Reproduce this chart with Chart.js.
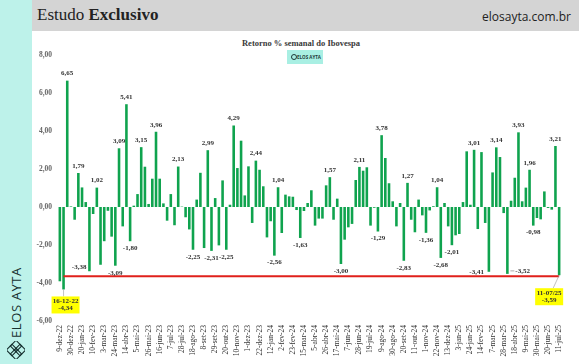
<!DOCTYPE html>
<html>
<head>
<meta charset="utf-8">
<script src="https://cdn.jsdelivr.net/npm/chart.js@4.4.1/dist/chart.umd.min.js"></script>
<style>
  body { margin: 0; width: 579px; height: 364px; overflow: hidden; background: #fff; position: relative; font-family: "Liberation Serif", serif; }
  #side { position: absolute; left: 0; top: 0; width: 32px; height: 364px; background: #bdf2ea; }
  #brand { position: absolute; left: 7px; top: 266px; height: 74px; width: 18px; writing-mode: vertical-rl; transform: rotate(180deg);
           font: 13px "Open Sans", sans-serif; letter-spacing: 0.6px; color: #16302f; text-align: center; line-height: 18px; white-space: nowrap; }
  #brandIcon { position: absolute; left: 7px; top: 341px; }
  #head { position: absolute; left: 32px; top: 0; width: 547px; height: 31px; background: #d4d4d4; }
  #head .left { position: absolute; left: 5px; top: 5px; font: 17px "Liberation Serif", serif; color: #222; }
  #head .right { position: absolute; right: 8px; top: 8px; font: 12px "Open Sans", sans-serif; color: #222; }
  #title { position: absolute; left: 201px; width: 200px; top: 38px; text-align: center; font: bold 8.5px "Liberation Serif", serif; color: #3a3a3a; }
  #badge { position: absolute; left: 287px; top: 50px; width: 36px; height: 14px; background: #a9efe3; font: bold 4.5px "Open Sans", sans-serif; color: #1d3b3a; line-height: 14px; }
  #badge span { position: absolute; left: 10px; }
  #badge i { position: absolute; left: 4px; top: 4px; width: 4px; height: 4px; border: 1px solid #1d3b3a; border-radius: 50%; }
  canvas { position: absolute; left: 32px; top: 31px; }
</style>
</head>
<body>
<div id="side">
  <div id="brand">ELOS AYTA</div>
  <svg id="brandIcon" width="18" height="18" viewBox="0 0 18 18" fill="none" stroke="#16302f" stroke-width="1.1">
    <rect x="5" y="1" width="8" height="8" transform="rotate(45 9 5)"/>
    <rect x="5" y="9" width="8" height="8" transform="rotate(45 9 13)"/>
    <rect x="1" y="5" width="8" height="8" transform="rotate(45 5 9)"/>
    <rect x="9" y="5" width="8" height="8" transform="rotate(45 13 9)"/>
  </svg>
</div>
<div id="head">
  <div class="left">Estudo <b>Exclusivo</b></div>
  <div class="right">elosayta.com.br</div>
</div>
<div id="title">Retorno % semanal do Ibovespa</div>
<div id="badge"><i></i><span>ELOS AYTA</span></div>
<canvas id="retChart" width="547" height="333"></canvas>

<script>
// weekly Ibovespa return (%), one per Friday from 9-dez-22 to 11-jul-25
const weeklyReturn = [
  -3.91, -4.34, 6.65, 0.03, -0.67, 1.79, 1.03, 0.26, -3.38, -0.37,
  1.02, -3.04, -1.80, -0.20, -1.56, -3.09, 3.09, -1.02, 5.41, -1.80,
  0.07, 0.68, 3.15, 2.12, 0.16, 1.49, 3.96, 1.49, 0.19, -0.72,
  0.68, -0.96, 2.13, 0.02, -0.54, -1.18, -2.25, 0.39, 1.80, -2.16,
  2.99, -2.31, 0.47, -2.02, 1.40, -2.25, 0.12, 4.29, 2.05, 3.49,
  0.61, 2.14, -0.84, 2.44, 1.96, 1.09, -1.60, -0.75, -2.56, 1.04,
  -1.37, 0.65, 0.56, 0.54, -0.16, -1.63, -0.21, 0.21, 0.88, -0.98,
  -0.61, -0.61, 1.14, 1.57, -0.67, 0.44, -3.00, -1.72, -1.07, -0.89,
  1.42, 2.11, 1.91, 2.09, -0.98, -0.04, -1.29, 3.78, 2.58, 1.25,
  0.30, -1.02, 0.21, -2.83, 1.27, -0.67, -1.33, 0.39, -0.44, -1.36,
  -0.18, 0.04, 1.04, -2.68, 0.21, -1.02, -2.01, -1.49, -1.42, 0.26,
  2.93, 0.12, 3.01, -1.16, 2.89, -0.84, -3.41, 1.82, 3.14, 2.63,
  -0.32, -3.52, 0.33, 1.54, 3.93, 0.30, 1.02, 1.96, -0.98, -0.58,
  -0.65, 0.82, -0.05, -0.14, 3.21, -3.59
];

// bars that carry a value label
const labeledWeeks = [2, 5, 8, 10, 15, 16, 18, 19, 22, 26, 32, 36, 40, 41, 45, 47, 53, 58, 59, 65,
  73, 76, 81, 86, 87, 93, 94, 99, 102, 103, 106, 112, 116, 118, 121, 124, 127, 128, 134];

// the two yellow callouts (first low and last week)
const calloutWeeks = [1, 135];
const calloutDates = ['16-12-22', '11-07/25'];

const refLevel = -3.65;
const yTicks = [-6, -4, -2, 0, 2, 4, 6, 8];

const months = ['jan', 'fev', 'mar', 'abr', 'mai', 'jun', 'jul', 'ago', 'set', 'out', 'nov', 'dez'];
const categories = weeklyReturn.map((_, i) => {
    const d = new Date(Date.UTC(2022, 11, 9 + 7 * i));
    return d.getUTCDate() + '-' + months[d.getUTCMonth()] + '-' + String(d.getUTCFullYear()).slice(2);
});

const fmt = v => v.toFixed(2).replace('.', ',');

// labels next to the bar ends
const valueLabels = {
    id: 'valueLabels',
    afterDatasetsDraw(chart) {
        const meta = chart.getDatasetMeta(1);
        const ctx = chart.ctx;
        ctx.save();
        ctx.font = 'bold 7px "Liberation Serif"';
        ctx.fillStyle = '#333';
        ctx.textBaseline = 'middle';
        labeledWeeks.forEach(i => {
            const bar = meta.data[i];
            const v = weeklyReturn[i];
            const txt = fmt(v);
            if (i === 8) {
                ctx.textAlign = 'right';
                ctx.fillText(txt, bar.x - 3, bar.y - 4);
            } else if (i === 116) {
                ctx.textAlign = 'right';
                ctx.fillText(txt, bar.x - 5, bar.y);
            } else if (i === 121) {
                ctx.strokeStyle = '#777';
                ctx.lineWidth = 0.6;
                ctx.beginPath();
                ctx.moveTo(bar.x + 3, bar.y - 3);
                ctx.lineTo(bar.x + 7, bar.y - 3);
                ctx.stroke();
                ctx.textAlign = 'left';
                ctx.fillText(txt, bar.x + 8, bar.y - 3);
            } else {
                ctx.textAlign = 'center';
                ctx.fillText(txt, bar.x, v >= 0 ? bar.y - 7 : bar.y + 7);
            }
        });

        // yellow callouts
        calloutWeeks.forEach((i, k) => {
            const bar = meta.data[i];
            const first = k === 0;
            const cx = first ? bar.x + 2 : bar.x - 10;
            const top = first ? bar.y + 7 : bar.y + 13;
            const w = 28, h = 17;
            ctx.strokeStyle = '#999';
            ctx.lineWidth = 0.6;
            ctx.beginPath();
            ctx.moveTo(bar.x, bar.y);
            ctx.lineTo(first ? bar.x : bar.x - 6, top);
            ctx.stroke();
            ctx.fillStyle = '#ffff00';
            ctx.fillRect(cx - w / 2, top, w, h);
            ctx.fillStyle = '#333';
            ctx.textAlign = 'center';
            ctx.fillText(calloutDates[k], cx, top + 5);
            ctx.fillText(fmt(weeklyReturn[i]), cx, top + 12);
        });
        ctx.restore();
    }
};

const ctx = document.getElementById('retChart').getContext('2d');
new Chart(ctx, {
    data: {
        labels: categories,
        datasets: [{
            type: 'line',
            data: [{ x: categories[1], y: refLevel }, { x: categories[categories.length - 1], y: refLevel }],
            borderColor: '#e0201b',
            borderWidth: 2,
            pointRadius: 0,
            order: 0
        }, {
            type: 'bar',
            data: weeklyReturn,
            backgroundColor: '#0fa34e',
            barPercentage: 0.7,
            categoryPercentage: 1,
            order: 1
        }]
    },
    options: {
        responsive: false,
        animation: false,
        devicePixelRatio: 1,
        layout: { padding: { top: 24, right: 18, left: 0, bottom: 0 } },
        plugins: {
            legend: { display: false },
            tooltip: { enabled: false }
        },
        scales: {
            x: {
                grid: { display: false, drawTicks: false },
                border: { display: false },
                ticks: {
                    autoSkip: false,
                    maxRotation: 90,
                    minRotation: 90,
                    padding: 4,
                    color: '#333',
                    font: { family: 'Liberation Serif', size: 7.5 },
                    callback: (v, i) => i % 3 === 0 ? categories[i] : ''
                },
                afterFit: s => { s.height = 43; }
            },
            y: {
                min: -6,
                max: 8,
                grid: { display: false, drawTicks: false },
                border: { display: false },
                afterBuildTicks: s => { s.ticks = yTicks.map(v => ({ value: v })); },
                ticks: {
                    padding: 6,
                    color: '#666',
                    font: { family: 'Liberation Serif', size: 7.5, weight: 'bold' },
                    callback: v => fmt(v)
                },
                afterFit: s => { s.width = 26; }
            }
        }
    },
    plugins: [valueLabels]
});
</script>
</body>
</html>
